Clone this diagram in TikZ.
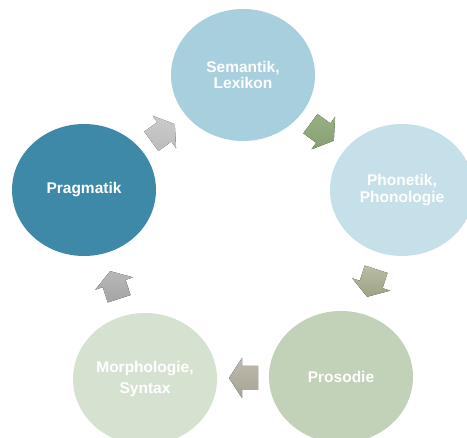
\documentclass[tikz,border=0pt]{standalone}
\usepackage{fontspec}
\setmainfont{Liberation Sans}
\usetikzlibrary{calc,shapes.geometric}
\definecolor{semc}{HTML}{A8CFDE}
\definecolor{phoc}{HTML}{C6E0E9}
\definecolor{proc}{HTML}{C1D2B8}
\definecolor{morc}{HTML}{D6E2D0}
\definecolor{prac}{HTML}{3F89A8}
\tikzset{
  phase/.style={shape=ellipse, minimum width=144pt, minimum height=132pt,
    inner sep=0pt, text=white, align=center,
    font=\fontsize{15.5}{17}\selectfont\bfseries},
  arrA/.style={top color=HTML97B185, bottom color=HTML86A171},
}
\definecolor{a1t}{HTML}{97B185}\definecolor{a1b}{HTML}{85A070}
\definecolor{a2t}{HTML}{B8BDA4}\definecolor{a2b}{HTML}{9CA285}
\definecolor{a3t}{HTML}{BDBAAE}\definecolor{a3b}{HTML}{A7A495}
\definecolor{a4t}{HTML}{B8B8B8}\definecolor{a4b}{HTML}{A4A4A4}
\definecolor{a5t}{HTML}{CBCBCB}\definecolor{a5b}{HTML}{BCBCBC}
\newcommand\myblockarrow[4]{%
  \begin{scope}[shift={($(#1)!0.5!(#2)$)}, rotate=#3]
    \fill[#4] (-15,-12) -- (1,-12) -- (1,-20) -- (14,0) -- (1,20) -- (1,12) -- (-15,12) -- cycle;
  \end{scope}}
\begin{document}
\begin{tikzpicture}[x=1pt,y=1pt]
\useasboundingbox (0,0) rectangle (467,438);
\clip (0,0) rectangle (467,438);
\fill[white] (0,0) rectangle (467,438);
\node[phase, fill=semc] (sem) at (243,363) {Semantik,\\[-0.5pt]Lexikon};
\node[phase, fill=phoc] (pho) at (402,248) {Phonetik,\\[0.5pt]Phonologie};
\node[phase, fill=proc] (pro) at (341,61) {Prosodie};
\node[phase, fill=morc] (mor) at (145,59) {Morphologie,\\[4pt]Syntax};
\node[phase, fill=prac] (pra) at (84,248) {Pragmatik};
\myblockarrow{sem}{pho}{-36}{top color=a1t, bottom color=a1b}
\myblockarrow{pho}{pro}{-108}{top color=a2t, bottom color=a2b}
\myblockarrow{pro}{mor}{180}{top color=a3t, bottom color=a3b}
\myblockarrow{mor}{pra}{108}{top color=a4t, bottom color=a4b}
\myblockarrow{pra}{sem}{36}{top color=a5t, bottom color=a5b}
\end{tikzpicture}
\end{document}
